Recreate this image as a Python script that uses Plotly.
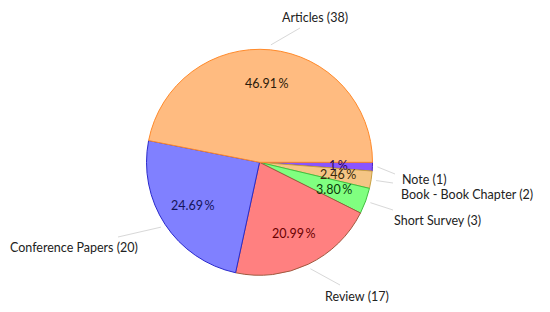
import math
import plotly.graph_objects as go

# data
categories = ["Articles", "Conference Papers", "Review", "Short Survey", "Book - Book Chapter", "Note"]
counts = [38, 20, 17, 3, 2, 1]
pct_labels = ["46.91\u2009%", "24.69\u2009%", "20.99\u2009%", "3.80\u2009%", "2.46\u2009%", "1\u2009%"]

fill_colors = ["#ffbb80", "#8080ff", "#ff8080", "#80ff80", "#f5c585", "#8a55ff"]
edge_colors = ["#ff8a2a", "#2a2acc", "#a05a40", "#40c040", "#c8a040", "#4a20c0"]
text_colors = ["#2a1a0a", "#14145a", "#6a0000", "#0a3a0a", "#3a2a0a", "#2a0a50"]

W, H = 550, 312
CX, CY, R = 259.5, 162.3, 113

# outside labels: text position (px) and where its leader line ends
label_xy = [(280, 17), (140, 248), (323, 296), (392, 220), (399, 194), (400, 179)]
label_anchor = ["left", "right", "left", "left", "left", "left"]
line_end = [(300, 28), (118, 237), (340, 285), (393, 210), (393, 183), (395, 174)]

FONT = "Lato"


def px(x, y):
    return x / W, 1 - y / H


# slices run counterclockwise from 3 o'clock: feed them reversed, clockwise
fig = go.Figure()
fig.add_trace(go.Pie(
    labels=categories[::-1],
    values=counts[::-1],
    sort=False,
    direction="clockwise",
    rotation=90,
    textinfo="none",
    hoverinfo="label+value",
    marker=dict(colors=fill_colors[::-1], line=dict(color=edge_colors[::-1], width=1)),
    domain=dict(x=[(CX - R) / W, (CX + R) / W], y=[1 - (CY + R) / H, 1 - (CY - R) / H]),
    showlegend=False,
))

total = sum(counts)
acc = 0
annotations = []
shapes = []
for i, c in enumerate(counts):
    mid = (acc + c / 2) / total * 2 * math.pi
    acc += c
    # percentage inside the slice
    tx, ty = CX + 0.7 * R * math.cos(mid), CY - 0.7 * R * math.sin(mid)
    x, y = px(tx, ty)
    annotations.append(dict(x=x, y=y, xref="paper", yref="paper", xanchor="center", yanchor="middle",
                            text=pct_labels[i], showarrow=False,
                            font=dict(family=FONT, size=12.5, color=text_colors[i])))
    # leader line
    sx, sy = CX + (R + 5) * math.cos(mid), CY - (R + 5) * math.sin(mid)
    x0, y0 = px(sx, sy)
    x1, y1 = px(*line_end[i])
    shapes.append(dict(type="line", xref="paper", yref="paper", x0=x0, y0=y0, x1=x1, y1=y1,
                       line=dict(color="#d8d8d8", width=1)))
    lx, ly = px(*label_xy[i])
    annotations.append(dict(x=lx, y=ly, xref="paper", yref="paper",
                            xanchor=label_anchor[i], yanchor="middle",
                            text=f"{categories[i]} ({c})", showarrow=False,
                            font=dict(family=FONT, size=12.5, color="#222222")))

fig.update_layout(
    width=W, height=H,
    margin=dict(l=0, r=0, t=0, b=0),
    paper_bgcolor="white",
    plot_bgcolor="white",
    annotations=annotations,
    shapes=shapes,
)

# drop the browser's default body margin so the figure sits at the window corner
fig.write_html("out.html", config={"displayModeBar": False},
               post_script="document.body.style.margin='0';")
